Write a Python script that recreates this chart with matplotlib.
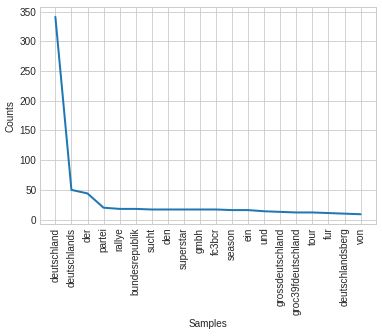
import matplotlib
matplotlib.use('Agg')
import matplotlib.pyplot as plt

# word frequencies (top 20 samples)
samples = ['deutschland', 'deutschlands', 'der', 'partei', 'rallye',
           'bundesrepublik', 'sucht', 'den', 'superstar', 'gmbh',
           'fc3bcr', 'season', 'ein', 'und', 'grossdeutschland',
           'groc39fdeutschland', 'tour', 'fur', 'deutschlandsberg', 'von']
counts = [341, 50, 44, 20, 18, 18, 17, 17, 17, 17,
          17, 16, 16, 14, 13, 12, 12, 11, 10, 9]

plt.style.use('seaborn-v0_8-whitegrid')
plt.rcParams['font.family'] = ['Liberation Sans', 'DejaVu Sans']

fig = plt.figure(figsize=(382 / 72, 336 / 72), dpi=72)
ax = fig.add_axes([0.105, 0.333, 0.879, 0.646])

ax.plot(samples, counts, linewidth=2)
ax.grid(True, color='#c8c8c8')
ax.set_xticks(range(len(samples)))
ax.set_xticklabels(samples, rotation=90)
ax.set_xlabel('Samples')
ax.set_ylabel('Counts')

fig.savefig('out.png', dpi=72)
